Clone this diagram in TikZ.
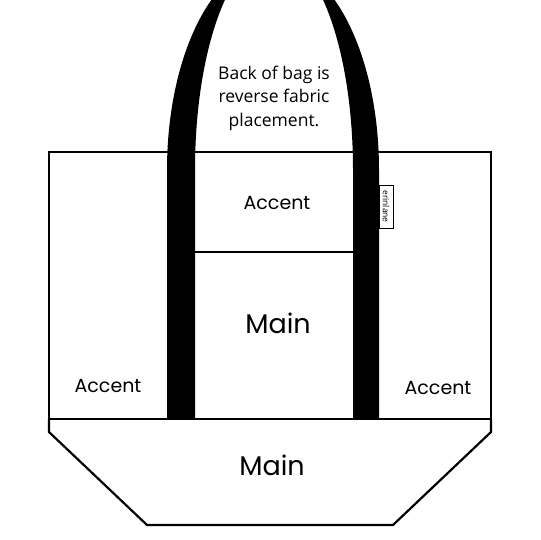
\documentclass[tikz,border=0pt]{standalone}
\usepackage{fontspec}
\setmainfont{Open Sans}
\newfontfamily\geofont{Poppins}
\begin{document}
\begin{tikzpicture}[x=1pt,y=-1pt,
  outline/.style={draw=black,line width=2.2pt},
  geolabel/.style={font=\geofont\fontsize{19}{19}\selectfont,inner sep=0pt,anchor=center},
  biglabel/.style={font=\geofont\fontsize{27}{27}\selectfont,inner sep=0pt,anchor=center},
  note/.style={font=\fontsize{17.5}{23.5}\selectfont,align=center,inner sep=0pt}]
\useasboundingbox (0,0) rectangle (540,540);
\begin{scope}
\clip (0,0) rectangle (540,540);
% bag body
\draw[outline] (49,152) rectangle (491,419);
\draw[outline] (49,419) -- (49,432) -- (147,525) -- (393,525) -- (491,432) -- (491,419);
\draw[outline,line width=2pt] (195,252) -- (353,252);
% straps
\fill[black,even odd rule] (167,419) -- (167,170)
  arc[start angle=180,end angle=0,x radius=106pt,y radius=209pt]
  -- (379,419) -- (353,419) -- (353,170)
  arc[start angle=0,end angle=180,x radius=79pt,y radius=217pt]
  -- (195,419) -- cycle;
\end{scope}
% tag
\draw[line width=0.8pt] (379,185) rectangle (393,228);
\node[rotate=-90,font=\fontsize{8.5}{8.5}\selectfont,inner sep=0pt] (tag) at (386,206.5) {erinlane};
% labels
\node[note] (back) at (274,98) {Back of bag is\\reverse fabric\\placement.};
\node[geolabel] (acctop) at (277,203) {Accent};
\node[geolabel] (accleft) at (108,386) {Accent};
\node[geolabel] (accright) at (438,388) {Accent};
\node[biglabel] (maintop) at (278,323) {Main};
\node[biglabel] (mainbot) at (272,465) {Main};
\end{tikzpicture}
\end{document}
